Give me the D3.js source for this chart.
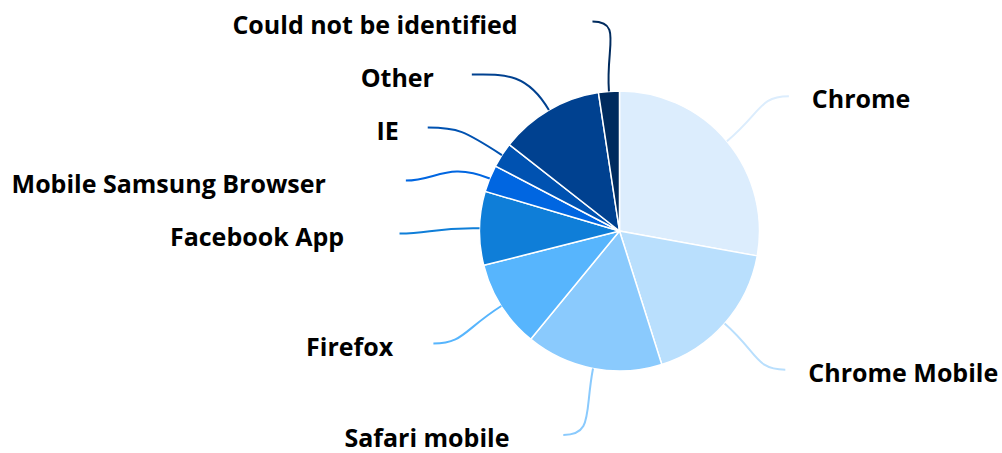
<!DOCTYPE html>
<html>
<head>
<meta charset="utf-8">
<script src="https://cdn.jsdelivr.net/npm/d3@7"></script>
<style>
  html, body { margin: 0; padding: 0; background: #ffffff; }
  svg { display: block; }
  text { font-family: "Open Sans", "Noto Sans", sans-serif; font-weight: 700; fill: #000; }
</style>
</head>
<body>
<svg id="chart" width="1002" height="453"></svg>
<script>
// ---- data ----
const categories = ["Chrome", "Chrome Mobile", "Safari mobile", "Firefox", "Facebook App",
                    "Mobile Samsung Browser", "IE", "Other", "Could not be identified"];
const shares = [27.8, 17.25, 15.8, 10.1, 8.5, 3.1, 2.9, 12.0, 2.4];
const colors = ["#dcedfd", "#b9dffd", "#8acafd", "#57b5fd", "#0f7ed8",
                "#0066e1", "#0052b1", "#004190", "#002b5e"];

// ---- layout ----
const W = 1002, H = 453;
const cx = 619.5, cy = 231, r = 140;
const labelR = 210;          // natural label radius (for y)
const ellRx = 220, ellRy = 211;
const minGap = 53;
const maxLabelY = 435, minLabelY = 18;
const fontSize = 25;

const svg = d3.select("#chart");
const g = svg.append("g");

const pie = d3.pie().sort(null).value(d => d.v).startAngle(0).endAngle(2 * Math.PI);
const data = categories.map((c, i) => ({ name: c, v: shares[i], color: colors[i] }));
const arcs = pie(data);
const arc = d3.arc().innerRadius(0).outerRadius(r);

// slices
g.selectAll("path.slice").data(arcs).enter().append("path")
  .attr("class", "slice")
  .attr("transform", `translate(${cx},${cy})`)
  .attr("d", arc)
  .attr("fill", d => d.data.color)
  .attr("stroke", "#ffffff")
  .attr("stroke-width", 1.5)
  .attr("stroke-linejoin", "round");

// label positions
arcs.forEach(d => {
  const a = (d.startAngle + d.endAngle) / 2;
  d.mid = a;
  d.side = Math.sin(a) >= 0 ? 1 : -1;
  d.ly = Math.min(maxLabelY, Math.max(minLabelY, cy - labelR * Math.cos(a)));
  d.ex = cx + r * Math.sin(a);
  d.ey = cy - r * Math.cos(a);
});
[1, -1].forEach(side => {
  const list = arcs.filter(d => d.side === side).sort((a, b) => a.ly - b.ly);
  for (let i = 1; i < list.length; i++) {
    if (list[i].ly < list[i - 1].ly + minGap) list[i].ly = list[i - 1].ly + minGap;
  }
});
arcs.forEach(d => {
  const dy = d.ly - cy;
  const t = Math.max(0, 1 - (dy / ellRy) * (dy / ellRy));
  d.lx = cx + d.side * ellRx * Math.sqrt(t);
});

// connectors
g.selectAll("path.conn").data(arcs).enter().append("path")
  .attr("class", "conn")
  .attr("fill", "none")
  .attr("stroke", d => d.data.color)
  .attr("stroke-width", 2)
  .attr("d", d => {
    const k1 = 30, k2 = 45;
    const c1x = d.lx - d.side * k1, c1y = d.ly;
    const c2x = d.ex + Math.sin(d.mid) * k2, c2y = d.ey - Math.cos(d.mid) * k2;
    return `M${d.lx},${d.ly}C${c1x},${c1y} ${c2x},${c2y} ${d.ex},${d.ey}`;
  });

// labels
const labels = g.selectAll("text.lbl").data(arcs).enter().append("text")
  .attr("class", "lbl")
  .style("font-size", fontSize + "px")
  .attr("y", d => d.ly + 12)
  .text(d => d.data.name);
labels.each(function(d) {
  const w = this.getComputedTextLength();
  const x = d.side > 0 ? d.lx + 23 : d.lx - 25 - 1.175 * w;
  d3.select(this).attr("x", x);
});
</script>
</body>
</html>
